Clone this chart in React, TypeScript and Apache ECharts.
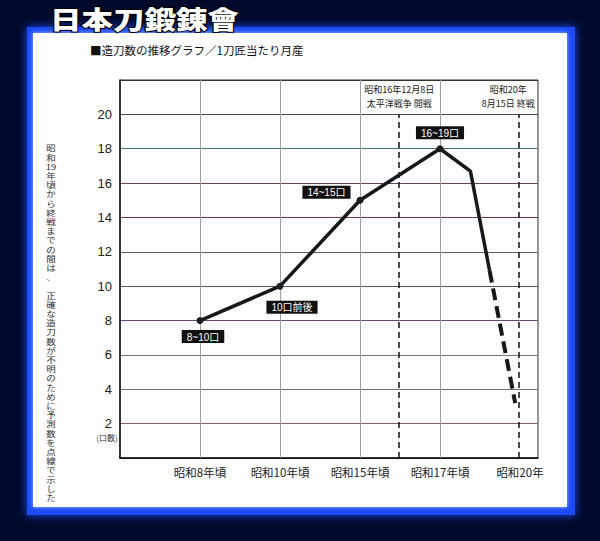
import React, { useEffect, useRef } from 'react';
import * as echarts from 'echarts';

const categories = ['昭和8年頃', '昭和10年頃', '昭和15年頃', '昭和17年頃', '昭和20年'];
const categoryPos = [1, 2, 3, 4, 5];
const yTicks = [2, 4, 6, 8, 10, 12, 14, 16, 18, 20];
const solidX = [1, 2, 3, 4, 4.38, 4.62];
const solidY = [8, 10, 15, 18, 16.7, 10.9];
const pointLabels = ['8~10口', '10口前後', '14~15口', '16~19口', '', ''];
const dashedX = [4.62, 4.94];
const dashedY = [10.9, 3.2];
const eventX = [3.49, 4.99];
const eventTop = 20;
const eventLabels = ['昭和16年12月8日\n太平洋戦争 開戦', '昭和20年\n8月15日 終戦'];
const gridX = [1, 2, 3, 4];
const titleText = '日本刀鍛錬會';
const subtitleText = '■造刀数の推移グラフ／1刀匠当たり月産';
const noteCells = ['昭', '和', '19', '年', '頃', 'か', 'ら', '終', '戦', 'ま', 'で', 'の', '間', 'は', '、', ' ',
  '正', '確', 'な', '造', '刀', '数', 'が', '不', '明', 'の', 'た', 'め', 'に', '予', '測', '数', 'を', '点', '線', 'で', '示', 'し', 'た'];
const unitText = '(口数)';

const labelLayouts: any[] = [
  { position: 'bottom', distance: 6, offset: [3, 0] },
  { position: 'bottom', distance: 11, offset: [12, 0] },
  { position: 'left', distance: 6, offset: [0, -8] },
  { position: 'top', distance: 6, offset: [0, 0] },
  {},
  {},
];
const gridLineColors = ['#222', '#8a5a68', '#6e7474', '#6e7878', '#6a4a78', '#4e5a62', '#5a6264', '#6a3444', '#6a4262', '#4a7272', '#3e4a58', '#333'];
const CJK = '"Noto Sans CJK JP", "Liberation Sans", sans-serif';
const LAT = '"Liberation Sans", "Noto Sans CJK JP", sans-serif';

export default function App() {
  const ref = useRef<HTMLDivElement>(null);
  useEffect(() => {
    document.body.style.margin = '0';
    const chart = echarts.init(ref.current!, null, { renderer: 'svg' });
    const markData: any[] = [];
    gridX.forEach((x) => {
      markData.push([
        { coord: [x, 0], lineStyle: { color: '#a0a0a0', width: 1, type: 'solid' }, label: { show: false } },
        { coord: [x, 22] },
      ]);
    });
    eventX.forEach((x, i) => {
      markData.push([
        {
          coord: [x, 0],
          lineStyle: { color: '#111', width: 1.5, type: [6, 4] },
          label: {
            show: true,
            position: 'end',
            formatter: eventLabels[i],
            fontSize: 9,
            lineHeight: 14,
            color: '#222',
            fontFamily: CJK,
            distance: 4,
            offset: i === 1 ? [-11, 0] : [0, 0],
          },
        },
        { coord: [x, eventTop] },
      ]);
    });
    const noteGraphics = noteCells.map((c, i) => ({
      type: 'text', z: 10, x: 51, y: 144 + i * 9.2, scaleX: 1.25,
      style: {
        text: c, x: 0, y: 0, fill: '#333', font: `7.6px ${CJK}`,
        textVerticalAlign: 'top', textAlign: 'center',
      },
    }));
    const option: any = {
      animation: false,
      backgroundColor: 'transparent',
      graphic: [
        {
          type: 'rect', z: -10,
          shape: { x: 27, y: 27, width: 548, height: 488 },
          style: { fill: '#1d4cf6', shadowBlur: 10, shadowColor: '#1f4cff' },
        },
        {
          type: 'rect', z: -9,
          shape: { x: 33, y: 33, width: 534, height: 474 },
          style: { fill: '#fdfdfd', shadowBlur: 4, shadowColor: '#9fb8ff' },
        },
        {
          type: 'text', z: 10, x: 50, y: 6, scaleX: 1.26,
          style: {
            text: titleText, x: 0, y: 0, fill: '#fff', stroke: '#000', lineWidth: 2,
            font: `900 25px ${CJK}`, textVerticalAlign: 'top', textAlign: 'left',
          },
        },
        {
          type: 'text', z: 10, x: 90, y: 50,
          style: {
            text: subtitleText, fill: '#111', font: `11.5px ${CJK}`,
            textVerticalAlign: 'middle', textAlign: 'left',
          },
        },
        ...noteGraphics,
        {
          type: 'text', z: 10, x: 107, y: 437,
          style: {
            text: unitText, fill: '#333', font: `8px ${CJK}`,
            textVerticalAlign: 'middle', textAlign: 'center',
          },
        },
      ],
      grid: {
        left: 120, top: 80, width: 418, height: 378,
        show: true, borderColor: '#333', borderWidth: 1, backgroundColor: 'transparent',
      },
      xAxis: {
        type: 'value', min: 0, max: 5.225, interval: 1,
        axisLine: { show: true, lineStyle: { color: '#111', width: 1.5 } },
        axisTick: { show: false },
        splitLine: { show: false },
        axisLabel: {
          formatter: (v: number) => {
            const idx = categoryPos.indexOf(v);
            return idx >= 0 ? categories[idx] : '';
          },
          fontSize: 11.5, color: '#222', fontFamily: CJK, margin: 8,
          showMaxLabel: false, showMinLabel: false,
        },
      },
      yAxis: {
        type: 'value', min: 0, max: 22, interval: 2,
        axisLine: { show: true, lineStyle: { color: '#111', width: 1.5 } },
        axisTick: { show: false },
        splitLine: { show: true, lineStyle: { color: gridLineColors, width: 1 } },
        axisLabel: {
          formatter: (v: number) => (yTicks.includes(v) ? String(v) : ''),
          fontSize: 13, color: '#222', fontFamily: LAT, margin: 8,
        },
      },
      series: [
        {
          type: 'line',
          data: solidX.map((x, i) => ({
            value: [x, solidY[i]],
            symbol: pointLabels[i] ? 'circle' : 'none',
            label: pointLabels[i]
              ? {
                  show: true,
                  formatter: pointLabels[i],
                  ...labelLayouts[i],
                }
              : { show: false },
          })),
          symbolSize: 7,
          itemStyle: { color: '#1c1f22' },
          lineStyle: { color: '#15181c', width: 3.5 },
          label: {
            backgroundColor: '#111', color: '#fff', fontSize: 10, fontFamily: LAT,
            padding: [2, 5, 1, 5],
          },
          z: 5,
          markLine: { silent: true, symbol: ['none', 'none'], data: markData, z: 1 },
        },
        {
          type: 'line',
          data: dashedX.map((x, i) => [x, dashedY[i]]),
          symbol: 'none',
          lineStyle: { color: '#15181c', width: 4, type: [12, 6] },
          z: 5,
        },
      ],
    };
    chart.setOption(option);
    return () => chart.dispose();
  }, []);
  return <div ref={ref} style={{ width: 600, height: 541, background: '#010a2b' }} />;
}
